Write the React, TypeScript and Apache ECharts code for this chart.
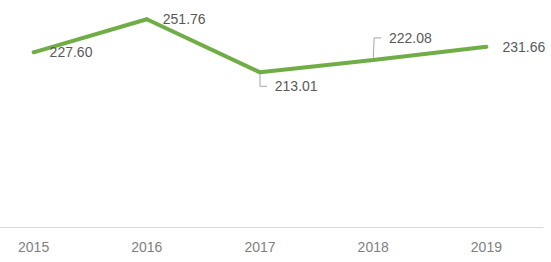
import React, { useEffect, useRef } from "react";
import * as echarts from "echarts";

const years = ["2015", "2016", "2017", "2018", "2019"];
const values = [227.6, 251.76, 213.01, 222.08, 231.66];
// label shifts (dx, dy) for points whose label is pulled away with a leader line
const leaderShifts: Record<number, [number, number]> = { 2: [-9, 14], 3: [-8, -22] };

export default function App() {
  const ref = useRef<HTMLDivElement>(null);
  useEffect(() => {
    document.body.style.margin = "0";
    const chart = echarts.init(ref.current!, null, { renderer: "svg" });
    chart.setOption({
      animation: false,
      grid: { left: 0, right: 8, top: 8, bottom: 35 },
      xAxis: {
        type: "category",
        data: years,
        boundaryGap: true,
        axisLine: { show: true, lineStyle: { color: "#d9d9d9", width: 1 } },
        axisTick: { show: false },
        axisLabel: {
          margin: 13,
          color: "#7f7f7f",
          fontSize: 14,
          fontFamily: "Liberation Sans, Arial, sans-serif",
        },
      },
      yAxis: { type: "value", min: 100, max: 260, show: false, splitLine: { show: false } },
      series: [
        {
          type: "line",
          data: values.map((v, i) =>
            leaderShifts[i] ? { value: v, labelLine: { show: true } } : { value: v }
          ),
          symbol: "circle",
          symbolSize: 4,
          showSymbol: true,
          itemStyle: { color: "#70ad47" },
          lineStyle: { color: "#70ad47", width: 4 },
          label: {
            show: true,
            position: "right",
            distance: 14,
            color: "#595959",
            fontSize: 14,
            fontFamily: "Liberation Sans, Arial, sans-serif",
            formatter: (p: any) =>
              (leaderShifts[p.dataIndex] ? "  " : "") + Number(p.value).toFixed(2),
          },
          labelLine: {
            show: false,
            length2: 7,
            lineStyle: { color: "#a6a6a6", width: 1 },
          },
          labelLayout: (p: any) => {
            const s = leaderShifts[p.dataIndex];
            return s ? { dx: s[0], dy: s[1] } : {};
          },
        },
      ],
    });
    return () => chart.dispose();
  }, []);
  return (
    <div style={{ width: 551, height: 262, overflow: "hidden", position: "relative" }}>
      <div ref={ref} style={{ width: 574, height: 262, position: "absolute", left: -23, top: 0 }} />
    </div>
  );
}
